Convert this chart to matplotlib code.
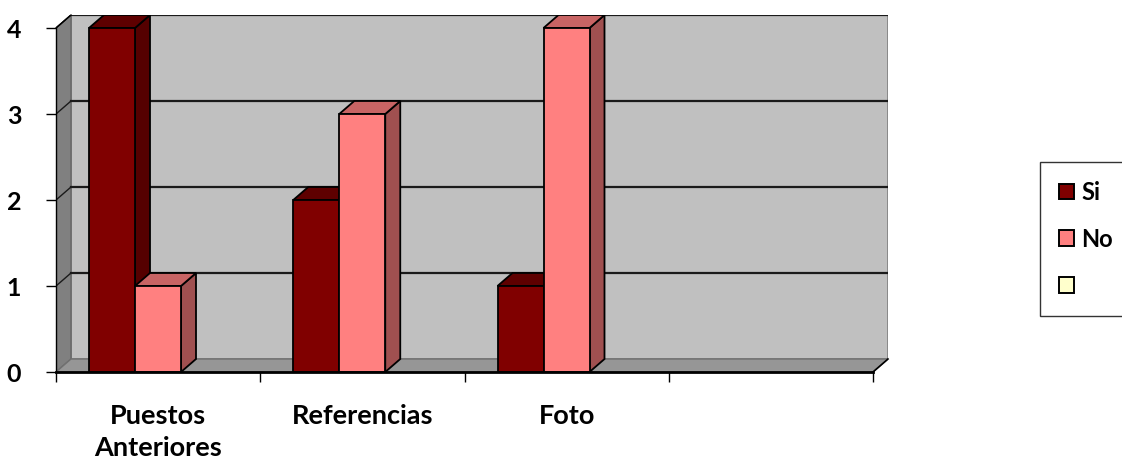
import matplotlib
matplotlib.use("Agg")
import matplotlib.pyplot as plt
from matplotlib.patches import Polygon, Patch

plt.rcParams['font.family'] = ['Lato', 'DejaVu Sans']
plt.rcParams['font.weight'] = 'bold'

categories = ["Puestos\nAnteriores", "Referencias", "Foto", ""]
series_names = ["Si", "No", ""]
si_values = [4, 2, 1]
no_values = [1, 3, 4]
y_ticks = [0, 1, 2, 3, 4]

front_colors = ["#800000", "#FF8080", "#FFFFCC"]
top_colors = ["#5e0000", "#c86464", "#e0e0b0"]
side_colors = ["#550000", "#a05050", "#c8c8a0"]

W, H = 1122, 458
fig = plt.figure(figsize=(W / 100, H / 100), dpi=100)

# pixel geometry of the plotting box
px_left, px_right_front, px_bottom, px_top_front = 56, 873, 372, 28
ddx_px, ddy_px = 15, 13
ncat = len(categories)
ymax = y_ticks[-1]
ux = (px_right_front - px_left) / ncat
uy = (px_bottom - px_top_front) / ymax
dx = ddx_px / ux
dy = ddy_px / uy

ax = fig.add_axes([px_left / W, (H - px_bottom) / H,
                   (px_right_front + ddx_px - px_left) / W,
                   (px_bottom - px_top_front + ddy_px) / H])
ax.set_xlim(0, ncat + dx)
ax.set_ylim(0, ymax + dy)
for s in ax.spines.values():
    s.set_visible(False)

# walls
ax.add_patch(Polygon([(dx, dy), (ncat + dx, dy), (ncat + dx, ymax + dy), (dx, ymax + dy)],
                     closed=True, facecolor="#C0C0C0", edgecolor="#808080", lw=1.2, zorder=1))
ax.add_patch(Polygon([(0, 0), (dx, dy), (dx, ymax + dy), (0, ymax)],
                     closed=True, facecolor="#808080", edgecolor="#666666", lw=1, zorder=1))
ax.add_patch(Polygon([(0, 0), (ncat, 0), (ncat + dx, dy), (dx, dy)],
                     closed=True, facecolor="#969696", edgecolor="#707070", lw=1, zorder=1))

# gridlines on back and side walls
for k in y_ticks[1:]:
    ax.plot([dx, ncat + dx], [k + dy, k + dy], color="#1a1a1a", lw=1.6, zorder=2)
    ax.plot([0, dx], [k, k + dy], color="#1a1a1a", lw=1.0, zorder=2)

# 3D bars
bar_w = 46 / ux
gap = 33 / ux
for i, vals in enumerate(zip(si_values, no_values)):
    for j, v in enumerate(vals):
        x0 = i + gap + j * bar_w
        x1 = x0 + bar_w
        ec = dict(edgecolor="black", lw=1.3, zorder=3 + j)
        ax.add_patch(Polygon([(x1, 0), (x1 + dx, dy), (x1 + dx, v + dy), (x1, v)],
                             closed=True, facecolor=side_colors[j], **ec))
        ax.add_patch(Polygon([(x0, v), (x1, v), (x1 + dx, v + dy), (x0 + dx, v + dy)],
                             closed=True, facecolor=top_colors[j], **ec))
        ax.add_patch(Polygon([(x0, 0), (x1, 0), (x1, v), (x0, v)],
                             closed=True, facecolor=front_colors[j], **ec))

# axis lines
ax.plot([0, ncat], [0, 0], color="black", lw=2, zorder=6, clip_on=False)
ax.plot([ncat, ncat + dx], [0, dy], color="black", lw=1.2, zorder=6, clip_on=False)
ax.plot([0, 0], [0, ymax], color="black", lw=1, zorder=6, clip_on=False)
ax.plot([0, dx], [ymax, ymax + dy], color="black", lw=1, zorder=6, clip_on=False)

ax.set_yticks(y_ticks)
ax.set_yticklabels([str(t) for t in y_ticks], fontsize=18, fontweight="bold")
ax.tick_params(axis="y", length=7, width=1, pad=18)
ax.set_xticks(range(ncat + 1))
ax.set_xticklabels([])
ax.tick_params(axis="x", which="major", length=7, width=1)
ax.set_xticks([i + 0.5 for i in range(ncat)], minor=True)
ax.set_xticklabels(categories, minor=True, fontsize=19.5, fontweight="bold",
                   linespacing=1.4)
ax.tick_params(axis="x", which="minor", length=0, pad=23)

handles = [Patch(facecolor=c, edgecolor="black", lw=1.4) for c in front_colors]
leg = fig.legend(handles, series_names, loc="center left",
                 bbox_to_anchor=(1040 / W, (H - 239) / H),
                 frameon=True, fancybox=False, edgecolor="black",
                 prop=dict(family=['Lato', 'DejaVu Sans'], weight="bold", size=17),
                 handlelength=0.65, handleheight=0.65, handletextpad=0.3,
                 labelspacing=1.0, borderpad=0.8, borderaxespad=0)
leg.get_frame().set_linewidth(1)

fig.savefig("out.png", dpi=100)
